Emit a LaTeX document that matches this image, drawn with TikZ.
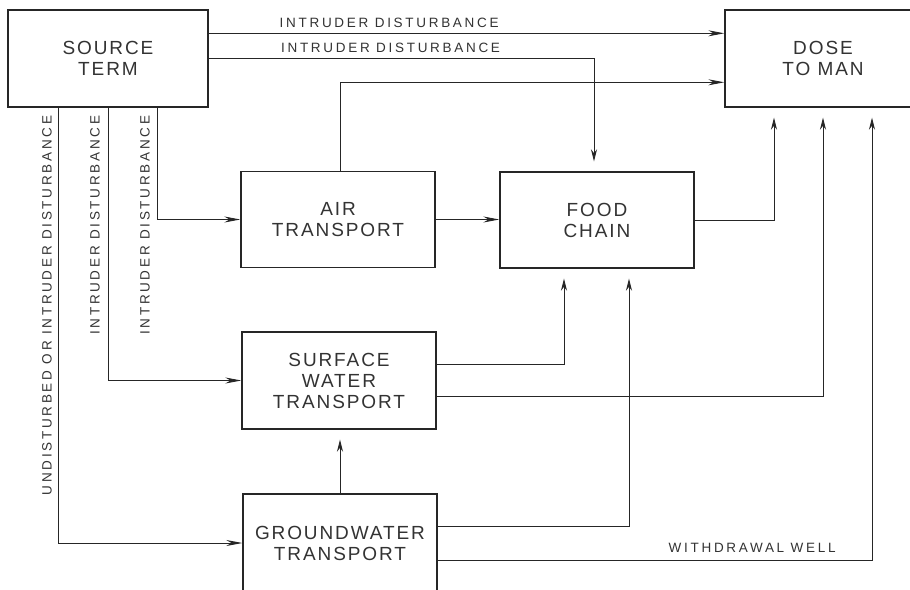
\documentclass[tikz,border=0pt]{standalone}
\usepackage{fontspec}
\setmainfont{Liberation Sans}
\newfontfamily\boxfont[LetterSpace=10]{Liberation Sans}
\newfontfamily\tagfont[LetterSpace=20]{Liberation Sans}
\usepackage{tikz}
\usetikzlibrary{positioning, arrows.meta}

\begin{document}
\begin{tikzpicture}[
    x=1pt, y=-1pt,
    block/.style={rectangle, draw=black!85, line width=1.4pt, minimum width=194pt, minimum height=96pt, inner sep=0pt, align=center, text=black!80, font=\boxfont\fontsize{19}{21}\selectfont},
    tag/.style={inner sep=0pt, text=black!80, font=\tagfont\fontsize{13.5}{15}\selectfont},
    vtag/.style={tag, rotate=90, anchor=south east},
    arr/.style={-{Stealth[length=16pt, width=6pt]}, line width=0.9pt, draw=black!85},
    varr/.style={-{Stealth[length=12pt, width=6pt]}, line width=0.9pt, draw=black!85, shorten >=10pt},
]

\useasboundingbox[fill=white] (0,0) rectangle (910,589);

\node[block, minimum width=200pt, minimum height=97pt] (src) at (108, 58.5) {SOURCE\\TERM};
\node[block, minimum width=196pt, minimum height=97pt] (dose) at (823, 58.5) {DOSE\\TO MAN};
\node[block] (air) at (338, 219.5) {AIR\\TRANSPORT};
\node[block] (food) at (597, 220) {FOOD\\CHAIN};
\node[block, minimum height=97pt] (surf) at (339, 380.5) {SURFACE\\WATER\\TRANSPORT};
\node[block, minimum height=98pt] (gw) at (340, 543) {GROUNDWATER\\TRANSPORT};

\draw[arr] ([yshift=-24pt]src.north east) -- node[tag, above=5pt, pos=0.35] (tagA) {INTRUDER DISTURBANCE} ([yshift=-24pt]dose.north west);
\draw[varr] ([yshift=-49pt]src.north east) -| node[tag, above=5pt, pos=0.236] (tagB) {INTRUDER DISTURBANCE} ([xshift=-3pt]food.north);
\draw[arr] ([xshift=2pt]air.north) |- ([yshift=-73pt]dose.north west);
\draw[arr] (air.east) -- (air.east -| food.west);
\draw[varr] (food.east) -| ([xshift=-49pt]dose.south);

\draw[varr] ([yshift=16.5pt]surf.east) -| ([xshift=-33pt]food.south);
\draw[varr] ([yshift=-15.5pt]surf.east) -| (dose.south);
\draw[varr] (gw.north) -- (gw.north |- surf.south);
\draw[varr] ([yshift=17pt]gw.east) -| ([xshift=32pt]food.south);
\draw[varr] ([yshift=-17pt]gw.east) -| node[tag, above=7pt, pos=0.362] (tagW) {WITHDRAWAL WELL} ([xshift=49pt]dose.south);

\draw[arr] ([xshift=49pt]src.south) |- (air.west);
\draw[arr] (src.south) |- (surf.west);
\draw[arr] ([xshift=-50pt]src.south) |- (gw.west);

\node[vtag] (tagC) at ([xshift=-56pt, yshift=-8pt]src.south) {UNDISTURBED OR INTRUDER DISTURBANCE};
\node[vtag] (tagD) at ([xshift=-8pt, yshift=-8pt]src.south) {INTRUDER DISTURBANCE};
\node[vtag] (tagE) at ([xshift=42pt, yshift=-8pt]src.south) {INTRUDER DISTURBANCE};

\end{tikzpicture}
\end{document}
